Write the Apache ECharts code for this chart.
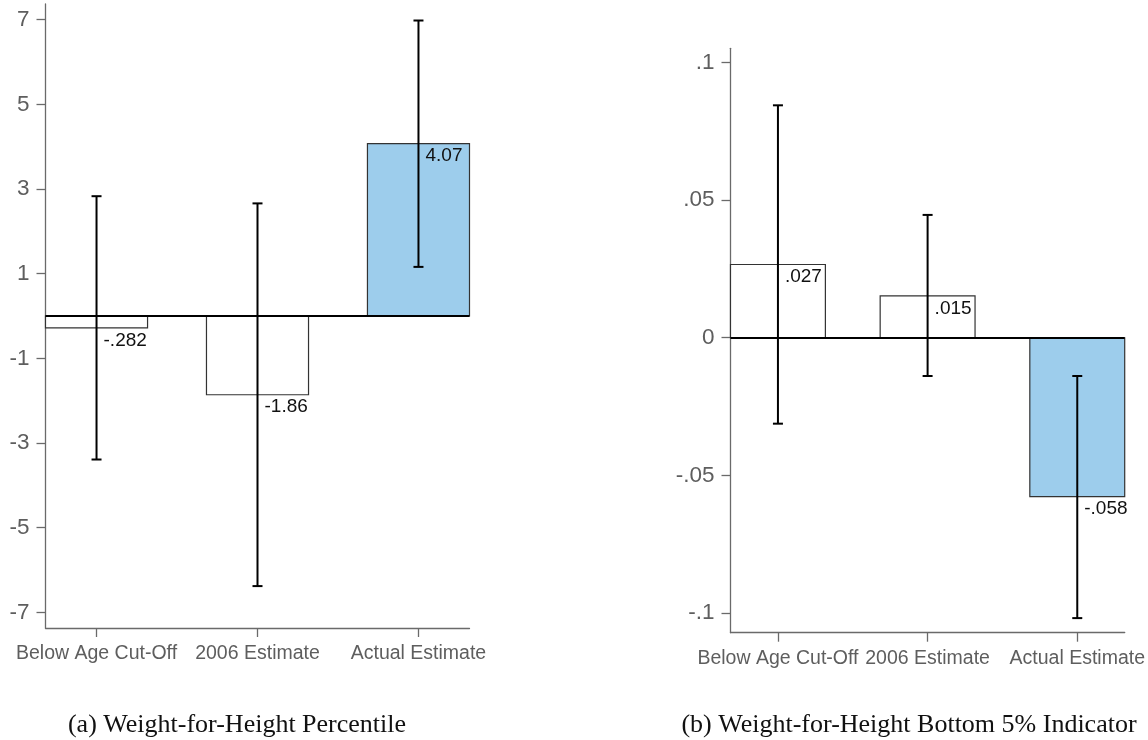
<!DOCTYPE html>
<html><head><meta charset="utf-8">
<script src="https://cdn.jsdelivr.net/npm/echarts@6/dist/echarts.min.js"></script>
<style>html,body{margin:0;padding:0;background:#fff}#c{width:1148px;height:740px}</style>
</head><body><div id="c"></div>
<script>
// ---- data ----
const categories = ['Below Age Cut-Off', '2006 Estimate', 'Actual Estimate'];
const positions = [1, 2, 3];

// Panel (a): Weight-for-Height Percentile
const aValues = [-0.282, -1.86, 4.07];
const aLow = [-3.39, -6.38, 1.16];
const aHigh = [2.83, 2.66, 6.98];
const aLabels = ['-.282', '-1.86', '4.07'];
const aTicks = [-7, -5, -3, -1, 1, 3, 5, 7];
const aTickLabels = ['-7', '-5', '-3', '-1', '1', '3', '5', '7'];

// Panel (b): Weight-for-Height Bottom 5% Indicator
const bValues = [0.0266, 0.0152, -0.0577];
const bLow = [-0.0312, -0.0139, -0.1018];
const bHigh = [0.0844, 0.0446, -0.0139];
const bLabels = ['.027', '.015', '-.058'];
const bTicks = [-0.1, -0.05, 0, 0.05, 0.1];
const bTickLabels = ['-.1', '-.05', '0', '.05', '.1'];

const fills = ['#ffffff', '#ffffff', '#9dcdec'];
const captions = ['(a) Weight-for-Height Percentile', '(b) Weight-for-Height Bottom 5% Indicator'];

// ---- styling ----
const HALF = 0.317;
const SANS = '"Liberation Sans", Arial, Helvetica, sans-serif';
const AXIS_GRAY = '#6a6a6a';

function seriesData(vals, lo, hi) {
  return positions.map((p, i) => [p, vals[i], lo[i], hi[i], i]);
}

function makeRender(labels) {
  return function (params, api) {
    const x = api.value(0), v = api.value(1), lo = api.value(2), hi = api.value(3);
    const idx = api.value(4);
    const p1 = api.coord([x - HALF, Math.max(v, 0)]);
    const p2 = api.coord([x + HALF, Math.min(v, 0)]);
    const pv = api.coord([x, v]);
    const pLo = api.coord([x, lo]);
    const pHi = api.coord([x, hi]);
    const cap = 5;
    return {
      type: 'group',
      children: [
        { type: 'rect', shape: { x: p1[0], y: p1[1], width: p2[0] - p1[0], height: p2[1] - p1[1] },
          style: { fill: fills[idx], stroke: '#333', lineWidth: 1.2 }, z2: 1 },
        { type: 'line', shape: { x1: pLo[0], y1: pLo[1], x2: pHi[0], y2: pHi[1] },
          style: { stroke: '#000', lineWidth: 2 }, z2: 5 },
        { type: 'line', shape: { x1: pLo[0] - cap, y1: pLo[1], x2: pLo[0] + cap, y2: pLo[1] },
          style: { stroke: '#000', lineWidth: 2 }, z2: 5 },
        { type: 'line', shape: { x1: pHi[0] - cap, y1: pHi[1], x2: pHi[0] + cap, y2: pHi[1] },
          style: { stroke: '#000', lineWidth: 2 }, z2: 5 },
        { type: 'text', style: { text: labels[idx], x: pv[0] + 7, y: pv[1] + 3, fill: '#111',
          fontSize: 19, fontFamily: SANS, align: 'left', verticalAlign: 'top' }, z2: 6 }
      ]
    };
  };
}

function xAxis(gridIndex) {
  return {
    type: 'value', gridIndex, min: 1 - HALF, max: 3 + HALF,
    axisLine: { show: true, onZero: false, lineStyle: { color: AXIS_GRAY, width: 1.3 } },
    axisTick: { show: true, length: 9, customValues: positions, lineStyle: { color: AXIS_GRAY, width: 1.3 } },
    axisLabel: { show: true, customValues: positions, margin: 16, color: '#5e5e5e', fontSize: 19.5, fontFamily: SANS,
      formatter: v => categories[Math.round(v) - 1] },
    splitLine: { show: false }
  };
}

function yAxis(gridIndex, min, max, ticks, tickLabels) {
  return {
    type: 'value', gridIndex, min, max,
    axisLine: { show: true, lineStyle: { color: AXIS_GRAY, width: 1.3 } },
    axisTick: { show: true, length: 9, customValues: ticks, lineStyle: { color: AXIS_GRAY, width: 1.3 } },
    axisLabel: { show: true, customValues: ticks, margin: 16, color: '#5e5e5e', fontSize: 22.5, fontFamily: SANS,
      formatter: v => { const i = ticks.findIndex(t => Math.abs(t - v) < 1e-9); return i >= 0 ? tickLabels[i] : ''; } },
    splitLine: { show: false }
  };
}

const chart = echarts.init(document.getElementById('c'), null, { renderer: 'canvas' });
chart.setOption({
  animation: false,
  backgroundColor: '#fff',
  title: [
    { text: captions[0], left: 232, top: 707, textAlign: 'center',
      textStyle: { fontFamily: '"Liberation Serif", "Times New Roman", serif', fontSize: 26, fontWeight: 'normal', color: '#111' } },
    { text: captions[1], left: 904, top: 707, textAlign: 'center',
      textStyle: { fontFamily: '"Liberation Serif", "Times New Roman", serif', fontSize: 26, fontWeight: 'normal', color: '#111' } }
  ],
  grid: [
    { left: 45.5, top: 4, width: 424, height: 624 },
    { left: 730.5, top: 48.3, width: 396, height: 584.4 }
  ],
  xAxis: [xAxis(0), xAxis(1)],
  yAxis: [yAxis(0, -7.37, 7.37, aTicks, aTickLabels), yAxis(1, -0.1071, 0.1051, bTicks, bTickLabels)],
  series: [
    { type: 'custom', xAxisIndex: 0, yAxisIndex: 0, data: seriesData(aValues, aLow, aHigh),
      renderItem: makeRender(aLabels), encode: { x: 0, y: 1 }, z: 2,
      markLine: { silent: true, symbol: 'none', label: { show: false }, z: 3,
        lineStyle: { color: '#000', width: 2.2, type: 'solid' }, data: [{ yAxis: 0 }] } },
    { type: 'custom', xAxisIndex: 1, yAxisIndex: 1, data: seriesData(bValues, bLow, bHigh),
      renderItem: makeRender(bLabels), encode: { x: 0, y: 1 }, z: 2,
      markLine: { silent: true, symbol: 'none', label: { show: false }, z: 3,
        lineStyle: { color: '#000', width: 2.2, type: 'solid' }, data: [{ yAxis: 0 }] } }
  ]
});
</script></body></html>
